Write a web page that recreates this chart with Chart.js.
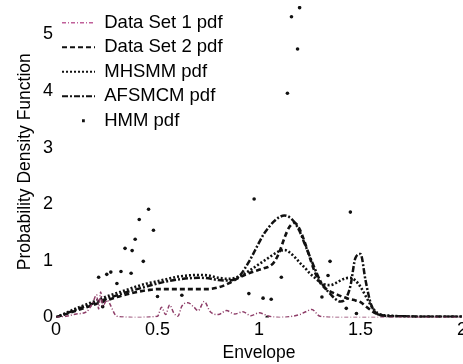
<!DOCTYPE html>
<html>
<head>
<meta charset="utf-8">
<script src="https://cdn.jsdelivr.net/npm/chart.js@4.4.0/dist/chart.umd.min.js"></script>
<style>
  html, body { margin: 0; padding: 0; background: #fff; overflow: hidden; }
  /* a bit wider than the window so the last x label is cut like in the scan */
  #wrap { width: 466px; height: 364px; }
</style>
</head>
<body>
<div id="wrap"><canvas id="pdf"></canvas></div>
<script>
// envelope grid shared by the smooth curves
var envelope = [0, 0.05, 0.1, 0.15, 0.2, 0.25, 0.3, 0.35, 0.4, 0.45,
  0.5, 0.55, 0.6, 0.65, 0.7, 0.75, 0.8, 0.85, 0.9, 0.95,
  1.0, 1.025, 1.05, 1.075, 1.1, 1.125, 1.15, 1.175, 1.2, 1.225,
  1.25, 1.275, 1.3, 1.325, 1.35, 1.375, 1.4, 1.425, 1.45, 1.475,
  1.5, 1.525, 1.55, 1.575, 1.6, 1.65, 1.7, 1.8, 1.9, 2.0];

var dataSet2 = [0, 0.06, 0.12, 0.18, 0.24, 0.3, 0.36, 0.41, 0.45, 0.48,
  0.5, 0.5, 0.5, 0.5, 0.5, 0.5, 0.53, 0.6, 0.7, 0.78,
  0.84, 0.87, 0.9, 0.98, 1.15, 1.4, 1.6, 1.67, 1.56, 1.33,
  1.06, 0.8, 0.62, 0.52, 0.46, 0.42, 0.38, 0.35, 0.32, 0.3,
  0.27, 0.2, 0.13, 0.07, 0.04, 0.02, 0.02, 0.01, 0.01, 0.01];

var mhsmm = [0, 0.08, 0.16, 0.23, 0.3, 0.37, 0.43, 0.49, 0.55, 0.6,
  0.64, 0.68, 0.72, 0.74, 0.75, 0.74, 0.7, 0.68, 0.72, 0.82,
  0.94, 1.0, 1.06, 1.12, 1.17, 1.19, 1.15, 1.07, 0.97, 0.88,
  0.78, 0.7, 0.63, 0.58, 0.57, 0.6, 0.65, 0.69, 0.7, 0.65,
  0.54, 0.38, 0.22, 0.1, 0.05, 0.03, 0.02, 0.01, 0.01, 0.01];

var afsmcm = [0, 0.07, 0.14, 0.2, 0.27, 0.33, 0.39, 0.45, 0.5, 0.55,
  0.6, 0.64, 0.67, 0.69, 0.7, 0.69, 0.66, 0.65, 0.72, 0.98,
  1.32, 1.48, 1.6, 1.7, 1.77, 1.8, 1.77, 1.68, 1.52, 1.3,
  1.08, 0.86, 0.66, 0.52, 0.42, 0.33, 0.28, 0.32, 0.55, 1.05,
  1.12, 0.65, 0.25, 0.08, 0.04, 0.02, 0.02, 0.01, 0.01, 0.01];

// noisy empirical pdf of data set 1
var ds1X = [0, 0.05, 0.1, 0.15, 0.18, 0.2, 0.21, 0.22, 0.23, 0.25,
  0.3, 0.4, 0.5, 0.52, 0.54, 0.56, 0.58, 0.6, 0.62, 0.65,
  0.68, 0.7, 0.73, 0.76, 0.8, 0.84, 0.88, 0.92, 0.96, 1.0,
  1.05, 1.1, 1.2, 1.23, 1.26, 1.3, 1.4, 1.6, 2.0];
var ds1Y = [0, 0.02, 0.06, 0.1, 0.25, 0.4, 0.15, 0.45, 0.2, 0.3,
  0.02, 0, 0.02, 0.18, 0.05, 0.22, 0.08, 0.02, 0.2, 0.26,
  0.18, 0.12, 0.28, 0.1, 0.05, 0.12, 0.06, 0.1, 0.03, 0.08,
  0.02, 0, 0.05, 0.1, 0.14, 0.02, 0, 0, 0];

// HMM pdf, scattered dots
var hmmX = [0.23, 0.21, 0.25, 0.27, 0.3, 0.32, 0.34, 0.37, 0.375, 0.39,
  0.41, 0.43, 0.456, 0.48, 0.5, 0.62, 0.95, 0.976, 1.02, 1.04,
  1.06, 1.11, 1.14, 1.16, 1.19, 1.2, 1.31, 1.34, 1.35, 1.43,
  1.45, 1.48];
var hmmY = [0.19, 0.71, 0.76, 0.8, 0.6, 0.81, 1.22, 0.78, 1.18, 1.38,
  1.73, 0.99, 1.91, 1.54, 0.37, 0.39, 0.42, 2.09, 0.34, 0.0,
  0.32, 0.71, 3.96, 5.31, 4.74, 5.47, 0.36, 0.74, 0.99, 0.16,
  1.86, 0.07];

var xTicks = [0, 0.5, 1, 1.5, 2];
var yTicks = [0, 1, 2, 3, 4, 5];

function pairs(xs, ys) {
  return xs.map(function (x, i) { return { x: x, y: ys[i] }; });
}

var font = "'Liberation Sans', Arial, Helvetica, sans-serif";

function curve(label, xs, ys, color, width, dash) {
  return {
    label: label,
    data: pairs(xs, ys),
    borderColor: color,
    borderWidth: width,
    borderDash: dash,
    pointRadius: 0,
    fill: false,
    cubicInterpolationMode: 'monotone'
  };
}

var ctx = document.getElementById('pdf');
var chart = new Chart(ctx, {
  type: 'line',
  data: {
    datasets: [
      curve('Data Set 1 pdf', ds1X, ds1Y, '#8e3d68', 1.5, [4, 2, 1, 2]),
      curve('Data Set 2 pdf', envelope, dataSet2, '#111', 2.6, [5, 3]),
      curve('MHSMM pdf', envelope, mhsmm, '#111', 2.6, [2, 2]),
      curve('AFSMCM pdf', envelope, afsmcm, '#111', 2.5, [6, 2, 2, 2]),
      {
        label: 'HMM pdf',
        data: pairs(hmmX, hmmY),
        showLine: false,
        pointRadius: 1.8,
        pointBackgroundColor: '#111',
        pointBorderWidth: 0
      }
    ]
  },
  options: {
    responsive: true,
    maintainAspectRatio: false,
    animation: false,
    layout: { padding: { left: 0, right: 2, top: 6, bottom: 0 } },
    plugins: {
      tooltip: { enabled: false },
      legend: {
        position: 'chartArea',
        align: 'start',
        // empty title only pushes the entries down a little
        title: { display: true, text: ' ', padding: { top: 6.5, bottom: 0 }, font: { size: 1, lineHeight: 1 } },
        labels: {
          color: '#000',
          font: { family: font, size: 18.5 },
          usePointStyle: true,
          pointStyleWidth: 33,
          boxHeight: 2,
          padding: 6,
          generateLabels: function (c) {
            return c.data.datasets.map(function (ds, i) {
              var dot = ds.showLine === false;
              return {
                text: ds.label,
                datasetIndex: i,
                pointStyle: 'line',
                fillStyle: 'rgba(0,0,0,0)',
                strokeStyle: dot ? '#111' : (i === 0 ? '#c0609a' : ds.borderColor),
                lineWidth: dot ? 2.8 : Math.min(ds.borderWidth, 2),
                lineDash: dot ? [2.8, 400] : ds.borderDash,
                lineDashOffset: dot ? -20 : 0,
                fontColor: '#000'
              };
            });
          }
        }
      }
    },
    scales: {
      x: {
        type: 'linear',
        min: 0,
        max: 2,
        grid: { display: false, drawTicks: false },
        border: { display: false },
        afterBuildTicks: function (s) { s.ticks = xTicks.map(function (v) { return { value: v }; }); },
        afterFit: function (s) { s.paddingLeft = 0; s.paddingRight = 0; },
        ticks: {
          color: '#000', padding: 2, maxRotation: 0, font: { family: font, size: 18 },
          callback: function (v) { return String(v); }
        },
        title: { display: true, text: 'Envelope', color: '#000', padding: { top: 0, bottom: 0 }, font: { family: font, size: 17.5 } }
      },
      y: {
        min: 0,
        max: 5.5,
        grid: { display: false, drawTicks: false },
        border: { display: false },
        afterBuildTicks: function (s) { s.ticks = yTicks.map(function (v) { return { value: v }; }); },
        afterFit: function (s) { s.paddingTop = 0; s.paddingBottom = 0; },
        ticks: { color: '#000', padding: 3, font: { family: font, size: 18 } },
        title: { display: true, text: 'Probability Density Function', color: '#000', padding: { top: 14.5, bottom: 4.5 }, font: { family: font, size: 17.5 } }
      }
    }
  }
});
</script>
</body>
</html>
